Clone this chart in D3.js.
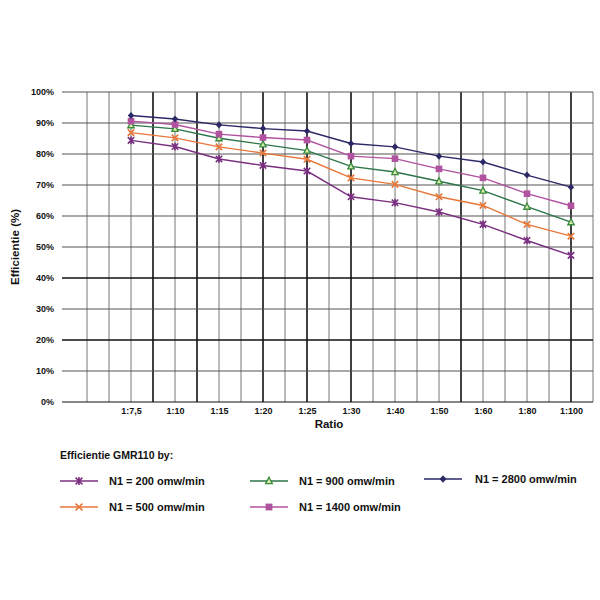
<!DOCTYPE html>
<html>
<head>
<meta charset="utf-8">
<script src="https://cdn.jsdelivr.net/npm/d3@7"></script>
<style>
  body { margin: 0; background: #fff; }
  svg { font-family: "Liberation Sans", Arial, sans-serif; font-weight: bold; }
</style>
</head>
<body>
<svg id="chart" width="600" height="600"></svg>
<script>
var ratios = ['1:7,5', '1:10', '1:15', '1:20', '1:25', '1:30', '1:40', '1:50', '1:60', '1:80', '1:100'];
var yTicks = [0, 10, 20, 30, 40, 50, 60, 70, 80, 90, 100];

var n200  = [84.4, 82.4, 78.4, 76.3, 74.5, 66.2, 64.3, 61.3, 57.3, 52.1, 47.3];
var n500  = [86.9, 85.2, 82.3, 80.3, 78.3, 72.3, 70.2, 66.2, 63.4, 57.3, 53.5];
var n900  = [89.3, 88.1, 85.1, 83.1, 81.1, 76.0, 74.2, 71.2, 68.2, 63.0, 58.0];
var n1400 = [90.6, 89.5, 86.4, 85.3, 84.5, 79.3, 78.5, 75.2, 72.3, 67.2, 63.3];
var n2800 = [92.4, 91.3, 89.4, 88.2, 87.4, 83.4, 82.3, 79.3, 77.4, 73.2, 69.3];

var seriesNames = ['N1 = 200 omw/min', 'N1 = 500 omw/min', 'N1 = 900 omw/min',
                   'N1 = 1400 omw/min', 'N1 = 2800 omw/min'];

var series = [
    { name: seriesNames[0], values: n200,  color: '#7a2f80', marker: 'star' },
    { name: seriesNames[1], values: n500,  color: '#e8773a', marker: 'cross' },
    { name: seriesNames[2], values: n900,  color: '#2c7548', marker: 'triangle' },
    { name: seriesNames[3], values: n1400, color: '#b0529f', marker: 'square' },
    { name: seriesNames[4], values: n2800, color: '#2b2866', marker: 'diamond' }
];

var svg = d3.select('#chart');

var plot = { left: 65, right: 593, top: 92, bottom: 402 };

// one empty slot before the first ratio, gridlines on every half step
var xScale = d3.scaleLinear()
                .domain([-1.5, ratios.length - 0.5])
                .range([plot.left, plot.right]);

var yScale = d3.scaleLinear()
                .domain([0, 100])
                .range([plot.bottom, plot.top]);

var heavyX = [0.5, 1.5, 3, 4, 5, 7.5, 10];
var heavyY = [20, 40];

var grid = svg.append('g').classed('grid', true);

grid.selectAll('.vline')
    .data(d3.range(-1, ratios.length, 0.5))
    .enter()
    .append('line')
        .classed('vline', true)
        .attr('x1', d => xScale(d))
        .attr('x2', d => xScale(d))
        .attr('y1', yScale(100))
        .attr('y2', yScale(0))
        .attr('stroke', d => heavyX.includes(d) ? '#111' : '#777')
        .attr('stroke-width', d => heavyX.includes(d) ? 1.6 : 1);

grid.selectAll('.hline')
    .data(yTicks)
    .enter()
    .append('line')
        .classed('hline', true)
        .attr('x1', plot.left - 3)
        .attr('x2', plot.right)
        .attr('y1', d => yScale(d))
        .attr('y2', d => yScale(d))
        .attr('stroke', d => (heavyY.includes(d) || d === 0) ? '#111' : '#555')
        .attr('stroke-width', d => heavyY.includes(d) ? 1.6 : 1.1);

var yAxis = d3.axisLeft(yScale)
                .tickValues(yTicks)
                .tickSize(0)
                .tickPadding(8)
                .tickFormat(d => d + '%');

svg.append('g')
    .classed('y-axis', true)
    .attr('transform', `translate(${plot.left - 3}, 0)`)
    .call(yAxis)
    .call(g => g.select('.domain').remove())
    .selectAll('text')
        .style('font-size', '9px')
        .style('font-weight', 'bold')
        .attr('fill', '#111');

var xAxis = d3.axisBottom(xScale)
                .tickValues(d3.range(ratios.length))
                .tickSize(0)
                .tickPadding(6)
                .tickFormat(i => ratios[i]);

svg.append('g')
    .classed('x-axis', true)
    .attr('transform', `translate(0, ${plot.bottom})`)
    .call(xAxis)
    .call(g => g.select('.domain').remove())
    .selectAll('text')
        .style('font-size', '9px')
        .style('font-weight', 'bold')
        .attr('fill', '#111');

svg.append('text')
    .attr('x', (plot.left + plot.right) / 2)
    .attr('y', 428)
    .style('font-size', '11.5px')
    .style('text-anchor', 'middle')
    .attr('fill', '#111')
    .text('Ratio');

svg.append('text')
    .attr('transform', 'rotate(-90)')
    .attr('x', -(plot.top + plot.bottom) / 2)
    .attr('y', 19)
    .style('font-size', '11.5px')
    .style('text-anchor', 'middle')
    .attr('fill', '#111')
    .text('Efficientie (%)');

function drawMarker(g, type, color, size) {
    var s = size;
    if (type === 'star') {
        g.append('path')
            .attr('d', `M${-s},${-s}L${s},${s}M${-s},${s}L${s},${-s}M0,${-s * 1.2}L0,${s * 1.2}`)
            .attr('stroke', color).attr('stroke-width', 1.6).attr('fill', 'none');
    } else if (type === 'cross') {
        g.append('path')
            .attr('d', `M${-s},${-s}L${s},${s}M${-s},${s}L${s},${-s}`)
            .attr('stroke', color).attr('stroke-width', 1.6).attr('fill', 'none');
    } else if (type === 'triangle') {
        g.append('path')
            .attr('d', `M0,${-s * 1.1}L${s},${s * 0.8}L${-s},${s * 0.8}Z`)
            .attr('stroke', '#3a8a3a').attr('stroke-width', 1.3).attr('fill', '#d4ecb0');
    } else if (type === 'square') {
        g.append('rect')
            .attr('x', -s).attr('y', -s)
            .attr('width', 2 * s).attr('height', 2 * s)
            .attr('fill', color);
    } else if (type === 'diamond') {
        g.append('path')
            .attr('d', `M0,${-s * 1.1}L${s},0L0,${s * 1.1}L${-s},0Z`)
            .attr('fill', color);
    }
}

var line = d3.line()
                .x((d, i) => xScale(i))
                .y(d => yScale(d));

var lines = svg.append('g').classed('series', true);

series.forEach(function(s) {
    var g = lines.append('g');
    g.append('path')
        .datum(s.values)
        .attr('d', line)
        .attr('fill', 'none')
        .attr('stroke', s.color)
        .attr('stroke-width', 1.4);

    g.selectAll('.marker')
        .data(s.values)
        .enter()
        .append('g')
            .classed('marker', true)
            .attr('transform', (d, i) => `translate(${xScale(i)}, ${yScale(d)})`)
            .each(function() { drawMarker(d3.select(this), s.marker, s.color, s.marker === 'square' ? 3.3 : 3.2); });
});

// legend
var legend = svg.append('g').classed('legend', true);

legend.append('text')
    .attr('x', 60)
    .attr('y', 459)
    .style('font-size', '10.5px')
    .attr('fill', '#111')
    .text('Efficientie GMR110 by:');

var legendPos = [
    { x: 60,  y: 481 },
    { x: 60,  y: 507 },
    { x: 250, y: 481 },
    { x: 250, y: 507 },
    { x: 424, y: 479 }
];

series.forEach(function(s, i) {
    var p = legendPos[i];
    var item = legend.append('g')
                    .attr('transform', `translate(${p.x}, ${p.y})`);
    item.append('line')
        .attr('x1', 0).attr('x2', 38)
        .attr('y1', 0).attr('y2', 0)
        .attr('stroke', s.color)
        .attr('stroke-width', 1.4);
    var m = item.append('g').attr('transform', 'translate(19, 0)');
    drawMarker(m, s.marker, s.color, 3.4);
    item.append('text')
        .attr('x', i === 4 ? 51 : 49)
        .attr('y', 4)
        .style('font-size', '11px')
        .attr('fill', '#111')
        .text(s.name);
});
</script>
</body>
</html>
